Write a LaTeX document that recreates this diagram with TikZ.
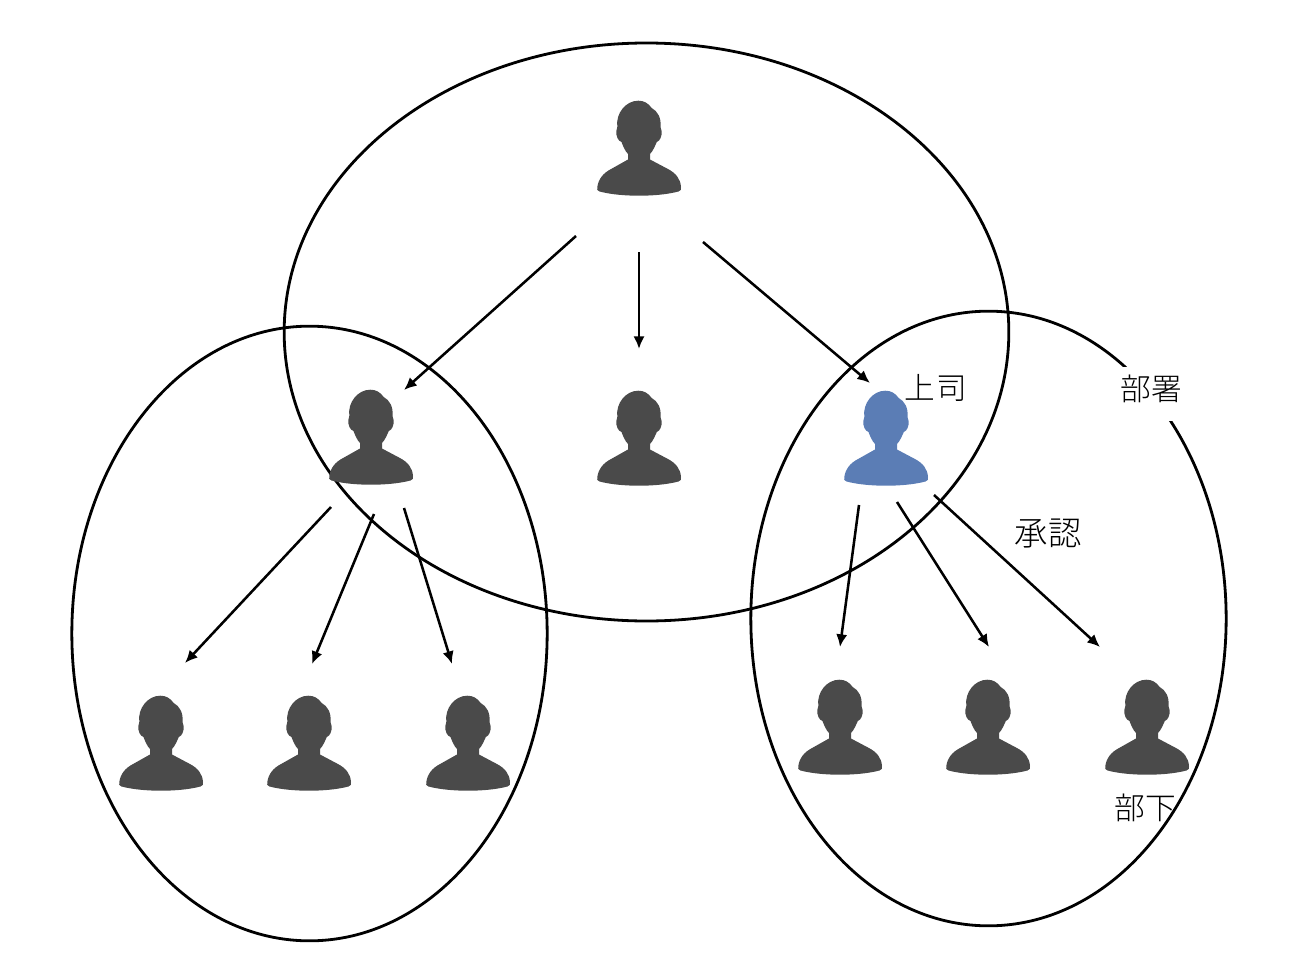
\documentclass[tikz,border=0pt]{standalone}
\usepackage{fontspec}
\setmainfont{Noto Sans CJK JP Light}
\usetikzlibrary{positioning, shapes.geometric, arrows.meta}

\definecolor{icongray}{HTML}{4A4A4A}
\definecolor{iconblue}{HTML}{5B7DB5}

\tikzset{
  person/.pic={
    \fill[pic actions] (0,47.7) .. controls (-14,47.7) and (-28,46.5) .. (-39.5,43.5)
      .. controls (-42,43) and (-42.3,41) .. (-41.7,39)
      .. controls (-40.5,31) and (-36,25) .. (-27,20.5)
      -- (-11,11.5) -- (-11,6)
      .. controls (-14,3) and (-16,-2) .. (-17.5,-6)
      .. controls (-21,-7) and (-23,-12) .. (-22.7,-16.7)
      .. controls (-22.7,-19) and (-21.7,-19) .. (-21.7,-21)
      .. controls (-23.5,-35) and (-13,-47.3) .. (-0.7,-47.3)
      .. controls (5,-47.3) and (9,-45) .. (12.7,-40)
      .. controls (18.5,-37) and (22.5,-30) .. (21.5,-21)
      .. controls (21.5,-19) and (22.7,-19) .. (22.7,-16.7)
      .. controls (23,-12) and (21,-7) .. (17.8,-6)
      .. controls (16,-2) and (14,3) .. (11,6)
      -- (11,11.5) -- (28,20.5)
      .. controls (37,25) and (41.5,31) .. (42,39)
      .. controls (42.5,41) and (42,43) .. (39.5,43.5)
      .. controls (28,46.5) and (14,47.7) .. (0,47.7) -- cycle;
  }
}

\begin{document}
\begin{tikzpicture}[x=0.75pt, y=-0.75pt]
        % Same pixel grid as the reference
        \tikzstyle{group}=[ellipse, draw, line width=2.1pt, inner sep=0pt, outer sep=0pt]
        \tikzstyle{iconbox}=[inner sep=0pt, minimum width=63pt, minimum height=72pt]
        \tikzstyle{flow}=[line width=1.9pt, -{Latex[length=9.5pt, width=8.5pt]}]
        \tikzstyle{caption}=[inner sep=1pt, font=\fontsize{23}{26}\selectfont]

        \useasboundingbox (0,0) rectangle (1300,974);

        \node[group, minimum width=543.5pt, minimum height=433.5pt] (top) at (646.5,332) {};
        \node[group, minimum width=356.5pt, minimum height=461pt] (left) at (309.5,633.5) {};
        \node[group, minimum width=356.5pt, minimum height=461pt] (right) at (988.5,618.5) {};

        \foreach \name/\x/\y in {boss/639/148, mgra/371/437, mgrb/639/438,
            staffa/161/743, staffb/309/743, staffc/468/743,
            staffd/840/727, staffe/988/727, stafff/1147/727} {
          \node[iconbox] (\name) at (\x,\y) {};
          \pic[icongray] at (\name) {person};
        }
        \node[iconbox] (chief) at (886,438) {};
        \pic[iconblue] at (chief) {person};

        % Arrow ends
        \coordinate (s1) at (576,236);
        \coordinate (e1) at (404,390);
        \coordinate (s2) at (639,252);
        \coordinate (e2) at (639,349);
        \coordinate (s3) at (703,242);
        \coordinate (e3) at (870,383);
        \coordinate (s4) at (331,507);
        \coordinate (e4) at (185,663);
        \coordinate (s5) at (374,514);
        \coordinate (e5) at (312,664);
        \coordinate (s6) at (404,508);
        \coordinate (e6) at (452,664);
        \coordinate (s7) at (859,505);
        \coordinate (e7) at (840,647);
        \coordinate (s8) at (897,502);
        \coordinate (e8) at (989,647);
        \coordinate (s9) at (934,495);
        \coordinate (e9) at (1100,647);

        \foreach \i in {1,...,9} {
          \draw[flow] (s\i) -- (e\i);
        }

        \node[caption] (lblboss) at (936,388) {上\kern1pt司};
        \node[caption, fill=white, inner sep=6pt, text depth=9pt] (lbldept) at (1151,394) {部署};
        \node[caption, font=\fontsize{25}{28}\selectfont] (lblok) at (1048,534) {承認};
        \node[caption] (lblsub) at (1145,808) {部下};
\end{tikzpicture}
\end{document}
